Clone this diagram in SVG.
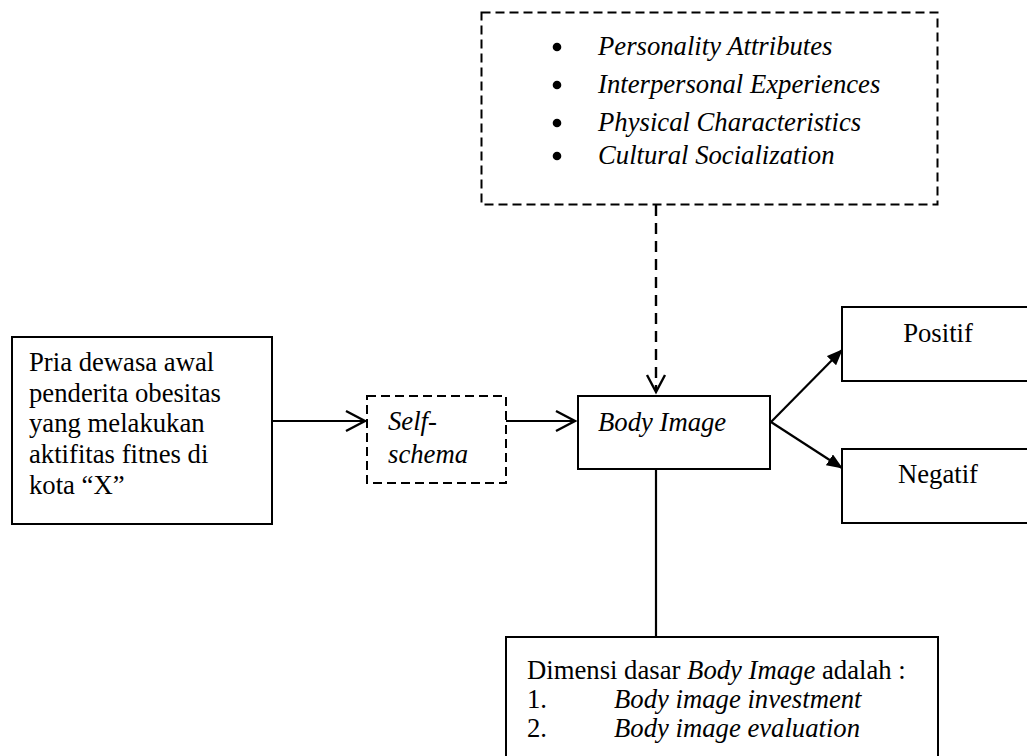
<svg xmlns="http://www.w3.org/2000/svg" width="1027" height="756" viewBox="0 0 1027 756" font-family="'Liberation Serif', Tinos, 'Times New Roman', 'DejaVu Serif', serif">
<style>
text{font-family:"Liberation Serif",Tinos,"Times New Roman","DejaVu Serif",serif;font-size:26.7px;fill:#000}
.it{font-style:italic}
.box{fill:#fff;stroke:#000;stroke-width:2}
.dbox{fill:#fff;stroke:#000;stroke-width:2;stroke-dasharray:9 5}
.ln{fill:none;stroke:#000;stroke-width:2.2}
.dln{fill:none;stroke:#000;stroke-width:2.4;stroke-dasharray:11 7}
.chev{fill:none;stroke:#000;stroke-width:2.4}
</style>
<defs>
<marker id="tri" markerWidth="16" markerHeight="13" refX="15" refY="6.5" orient="auto" markerUnits="userSpaceOnUse" viewBox="0 0 16 13">
<path d="M0,0 L16,6.5 L0,13 z" fill="#000"/>
</marker>
</defs>
<rect width="1027" height="756" fill="#fff"/>

<g id="factors">
<rect class="dbox" x="481.5" y="12.5" width="456" height="192"/>
<circle cx="557" cy="47" r="4.3"/>
<circle cx="557" cy="85" r="4.3"/>
<circle cx="557" cy="123" r="4.3"/>
<circle cx="557" cy="156" r="4.3"/>
<text class="it" x="598" y="55">Personality Attributes</text>
<text class="it" x="598" y="93">Interpersonal Experiences</text>
<text class="it" x="598" y="131">Physical Characteristics</text>
<text class="it" x="598" y="164">Cultural Socialization</text>
</g>

<g id="subject">
<rect class="box" x="12" y="337" width="260" height="187"/>
<text x="29" y="371">Pria dewasa awal</text>
<text x="29" y="402">penderita obesitas</text>
<text x="29" y="432">yang melakukan</text>
<text x="29" y="463">aktifitas fitnes di</text>
<text x="29" y="494">kota “X”</text>
</g>

<g id="selfschema">
<rect class="dbox" x="367" y="396" width="139" height="87"/>
<text class="it" x="388" y="430">Self-</text>
<text class="it" x="388" y="463">schema</text>
</g>

<g id="bodyimage">
<rect class="box" x="578" y="396" width="192" height="73"/>
<text class="it" x="598" y="431">Body Image</text>
</g>

<g id="positif">
<rect class="box" x="842" y="307" width="200" height="74"/>
<text x="938" y="342" text-anchor="middle">Positif</text>
</g>

<g id="negatif">
<rect class="box" x="842" y="449" width="200" height="74"/>
<text x="938" y="483" text-anchor="middle">Negatif</text>
</g>

<g id="dimensi">
<rect class="box" x="506" y="637" width="432" height="130"/>
<text x="527" y="679">Dimensi dasar <tspan class="it">Body Image</tspan> adalah :</text>
<text x="527" y="708">1.</text>
<text class="it" x="614" y="708">Body image investment</text>
<text x="527" y="737">2.</text>
<text class="it" x="614" y="737">Body image evaluation</text>
</g>

<g id="connectors">
<line class="ln" x1="272" y1="421" x2="365" y2="421"/>
<polyline class="chev" points="346,411 365,421 346,431"/>
<line class="ln" x1="506" y1="421" x2="574" y2="421"/>
<polyline class="chev" points="556,411 575,421 556,431"/>
<line class="dln" x1="656" y1="205" x2="656" y2="390"/>
<polyline class="chev" points="647,375 656,392 665,375"/>
<line class="ln" x1="771" y1="422" x2="842" y2="350" marker-end="url(#tri)"/>
<line class="ln" x1="771" y1="422" x2="842" y2="468" marker-end="url(#tri)"/>
<line class="ln" x1="656" y1="469" x2="656" y2="637"/>
</g>
</svg>
